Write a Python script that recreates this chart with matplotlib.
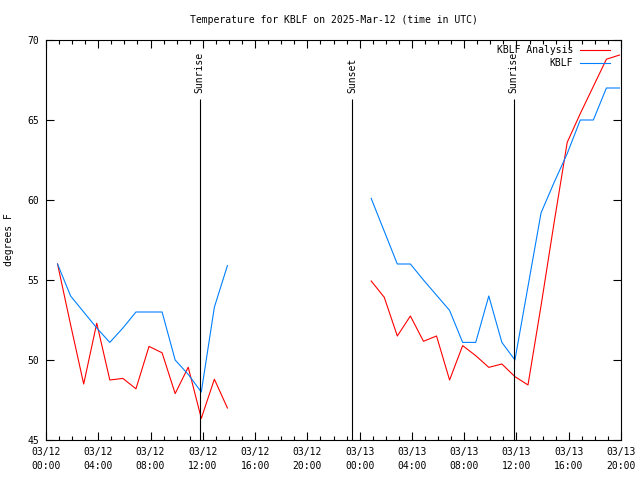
import numpy as np
import pandas as pd
import matplotlib
matplotlib.use("Agg")
import matplotlib.pyplot as plt
import matplotlib.dates as mdates

plt.rcParams['font.family'] = ['DejaVu Sans Mono']
plt.rcParams['font.size'] = 7

# hourly obs (HH:53), gap overnight marked with NaN
obs_times = [
    "2025-03-12 00:53", "2025-03-12 01:53", "2025-03-12 02:53", "2025-03-12 03:53",
    "2025-03-12 04:53", "2025-03-12 05:53", "2025-03-12 06:53", "2025-03-12 07:53",
    "2025-03-12 08:53", "2025-03-12 09:53", "2025-03-12 10:53", "2025-03-12 11:53",
    "2025-03-12 12:53", "2025-03-12 13:53",
    "2025-03-12 14:53",  # gap
    "2025-03-13 00:53", "2025-03-13 01:53", "2025-03-13 02:53", "2025-03-13 03:53",
    "2025-03-13 04:53", "2025-03-13 05:53", "2025-03-13 06:53", "2025-03-13 07:53",
    "2025-03-13 08:53", "2025-03-13 09:53", "2025-03-13 10:53", "2025-03-13 11:53",
    "2025-03-13 12:53", "2025-03-13 13:53", "2025-03-13 14:53", "2025-03-13 15:53",
    "2025-03-13 16:53", "2025-03-13 17:53", "2025-03-13 18:53", "2025-03-13 19:53",
]

analysis_temp = [
    56.0, 52.2, 48.5, 52.3, 48.75, 48.85, 48.2, 50.85, 50.45, 47.9, 49.55, 46.35, 48.8, 47.0,
    np.nan,
    54.94, 53.92, 51.5, 52.75, 51.17, 51.5, 48.75, 50.9, 50.27, 49.54, 49.75, 48.96,
    48.44, 53.4, 58.6, 63.6, 65.4, 67.1, 68.8, 69.06,
]

kblf_temp = [
    56.0, 54.0, 53.0, 52.0, 51.1, 52.0, 53.0, 53.0, 53.0, 50.0, 49.1, 48.0, 53.3, 55.9,
    np.nan,
    60.1, 58.05, 56.0, 56.0, 55.0, 54.05, 53.1, 51.1, 51.1, 54.0, 51.1, 50.0,
    54.6, 59.2, 61.1, 62.9, 65.0, 65.0, 67.0, 67.0,
]

sun_times = ["2025-03-12 11:45", "2025-03-12 23:25", "2025-03-13 11:47"]
sun_labels = ["Sunrise", "Sunset", "Sunrise"]

x_start = "2025-03-12 00:00"
x_end = "2025-03-13 20:00"

t = pd.to_datetime(obs_times)
sun_t = pd.to_datetime(sun_times)

fig = plt.figure(figsize=(6.4, 4.8), dpi=100)
ax = fig.add_axes([46 / 640, 40 / 480, 575 / 640, 400 / 480])

ax.plot(t, analysis_temp, color="#ff0000", lw=0.8, label="KBLF Analysis")
ax.plot(t, kblf_temp, color="#0080ff", lw=0.8, label="KBLF")

ax.vlines(sun_t, 45, 66.3, color="black", lw=0.8)
for st, lab in zip(sun_t, sun_labels):
    ax.text(st, 66.7, lab, rotation=90, ha="center", va="bottom")

ax.set_xlim(pd.Timestamp(x_start), pd.Timestamp(x_end))
ax.set_ylim(45, 70)
ax.set_yticks(range(45, 71, 5))
ax.xaxis.set_major_locator(mdates.HourLocator(byhour=range(0, 24, 4)))
ax.xaxis.set_minor_locator(mdates.HourLocator())
ax.xaxis.set_major_formatter(mdates.DateFormatter("%m/%d\n%H:%M"))
ax.tick_params(which="both", direction="in", top=True, right=True, width=0.8)
ax.tick_params(which="major", length=6, pad=5)
ax.tick_params(which="minor", length=3)
for sp in ax.spines.values():
    sp.set_linewidth(0.8)

ax.set_title("Temperature for KBLF on 2025-Mar-12 (time in UTC)", fontsize=7, pad=12.5)
ax.set_ylabel("degrees F")
ax.yaxis.set_label_coords(-0.056, 0.5)

# gnuplot-style key: right-aligned text, sample line after
handles, labels = ax.get_legend_handles_labels()
for i, (h, lab) in enumerate(zip(handles, labels)):
    yk = 0.974 - i * 0.032
    ax.text(0.917, yk, lab, transform=ax.transAxes, ha="right", va="center")
    ax.plot([0.929, 0.981], [yk, yk], transform=ax.transAxes,
            color=h.get_color(), lw=0.8, clip_on=False)

fig.canvas.draw()
for lbl in ax.get_xticklabels():
    lbl.set_linespacing(1.45)

fig.savefig("out.png", dpi=100)
